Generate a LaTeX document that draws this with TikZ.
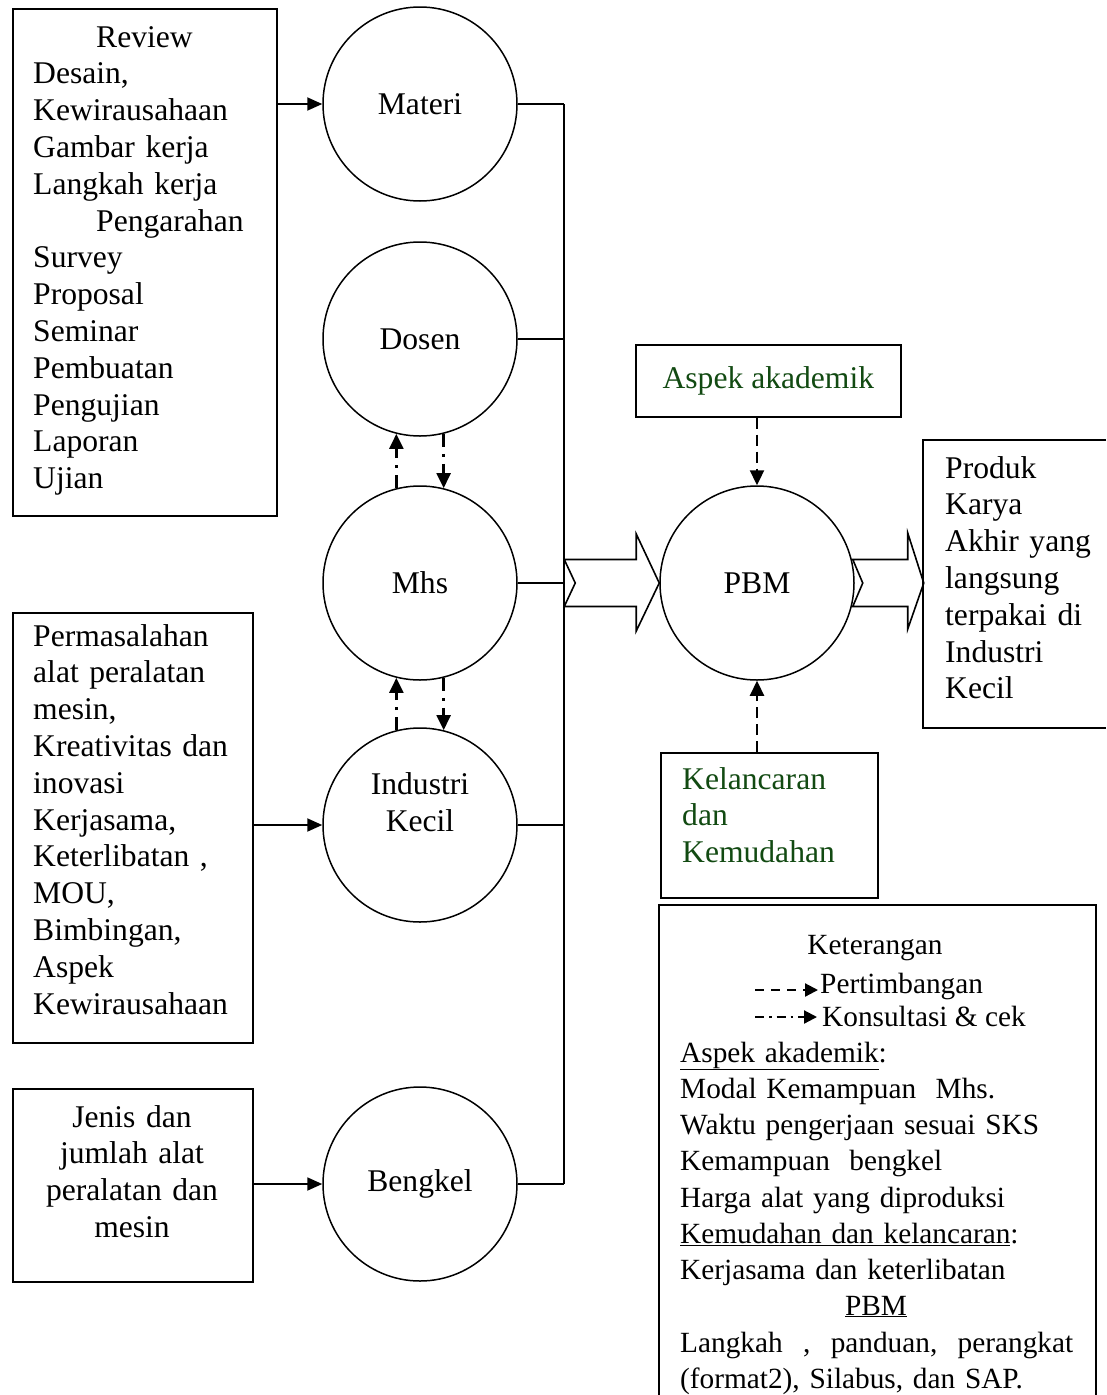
\documentclass[tikz,border=0pt]{standalone}
\usepackage{fontspec}
\setmainfont{Liberation Serif}
\usetikzlibrary{arrows.meta,calc}
\definecolor{dgreen}{HTML}{124A12}
\begin{document}
\begin{tikzpicture}[x=1pt,y=-1pt,
  circ/.style={draw, circle, line width=1.5pt, minimum size=194pt, inner sep=0pt, font=\fontsize{31.6}{36.8}\selectfont, align=center},
  box/.style={draw, line width=1.7pt, inner sep=0pt, anchor=north west},
  txt/.style={font=\fontsize{31.6}{36.8}\selectfont, inner sep=0pt},
  txtb/.style={font=\fontsize{29.3}{36.3}\selectfont, inner sep=0pt},
  conn/.style={line width=1.9pt},
  arr/.style={conn, -{Triangle[length=15pt,width=13pt]}},
  dsh/.style={line width=2.3pt, dash pattern=on 11pt off 6pt, -{Triangle[length=15pt,width=14pt]}},
  dd/.style={line width=2.3pt, dash pattern=on 13pt off 7pt on 3pt off 7pt, -{Triangle[length=15pt,width=14pt]}},
  legdash/.style={line width=2.2pt, dash pattern=on 9pt off 7pt, -{Triangle[length=13pt,width=13pt]}},
  legdd/.style={line width=2.2pt, dash pattern=on 9pt off 5pt on 2.5pt off 5pt, -{Triangle[length=13pt,width=13pt]}},
  blk/.style={line width=1.6pt, fill=white, line join=miter}
]
\useasboundingbox (0,0) rectangle (1106,1395);

% circles
\node[circ] (mat) at (420,104) {Materi};
\node[circ] (dos) at (420,339) {Dosen};
\node[circ] (mhs) at (420,583) {Mhs};
\node[circ] (ind) at (420,825) {};
\node[txt, align=center] (indt) at (420,802) {Industri\\Kecil};
\node[circ] (ben) at (420,1184) {Bengkel};
\node[circ] (pbm) at (757,583) {PBM};

% left boxes
\node[box, minimum width=264pt, minimum height=507pt] (b1) at (12,8) {};
\node[txt, anchor=base west, text width=240pt, align=left] (b1t) at (33,47)
 {\hspace*{63pt}Review\\Desain,\\Kewirausahaan\\Gambar kerja\\Langkah kerja\\\hspace*{63pt}Pengarahan\\Survey\\Proposal\\Seminar\\Pembuatan\\Pengujian\\Laporan\\Ujian};

\node[box, minimum width=240pt, minimum height=430pt] (b2) at (12,612) {};
\node[txt, anchor=base west, text width=215pt, align=left] (b2t) at (33,646)
 {Permasalahan\\alat peralatan\\mesin,\\Kreativitas dan\\inovasi\\Kerjasama,\\Keterlibatan ,\\MOU,\\Bimbingan,\\Aspek\\Kewirausahaan};

\node[box, minimum width=240pt, minimum height=193pt] (b3) at (12,1088) {};
\node[txt, anchor=base, text width=220pt, align=center] (b3t) at (132,1127)
 {Jenis dan\\jumlah alat\\peralatan dan\\mesin};

% input arrows
\draw[arr] (b1.east |- mat) -- (mat.west);
\draw[arr] (b2.east |- ind) -- (ind.west);
\draw[arr] (b3.east |- ben) -- (ben.west);

% bus
\coordinate (busT) at (564,104);
\coordinate (busB) at (564,1184);
\draw[conn] (busT) -- (busB);
\foreach \n in {mat,dos,mhs,ind,ben} \draw[conn] (\n.east) -- (\n.east -| busT);

% consult arrows
\draw[dd] (mhs.104) -- (dos.-104);
\draw[dd] (dos.-76) -- (mhs.76);
\draw[dd] (ind.104) -- (mhs.-104);
\draw[dd] (mhs.-76) -- (ind.76);

% block arrows
\draw[blk] ($(pbm.west)+(-95,-23.5)$) -- ($(pbm.west)+(-23,-23.5)$) -- ($(pbm.west)+(-23,-49)$) -- (pbm.west)
  -- ($(pbm.west)+(-23,48)$) -- ($(pbm.west)+(-23,23.5)$) -- ($(pbm.west)+(-95,23.5)$) -- ($(pbm.west)+(-84,0)$) -- cycle;
\draw[blk] ($(pbm.east)+(-2,-23.5)$) -- ($(pbm.east)+(53,-23.5)$) -- ($(pbm.east)+(53,-50)$) -- ($(pbm.east)+(69,0)$)
  -- ($(pbm.east)+(53,46)$) -- ($(pbm.east)+(53,23.5)$) -- ($(pbm.east)+(-2,23.5)$) -- ($(pbm.east)+(8,0)$) -- cycle;

% product box
\draw[line width=1.7pt] (1106,440) -- (923,440) -- (923,728) -- (1106,728);
\node[txt, anchor=base west, text width=160pt, align=left] (prod) at (945,478)
 {Produk\\Karya\\Akhir yang\\langsung\\terpakai di\\Industri\\Kecil};

% aspek akademik
\node[box, minimum width=265pt, minimum height=72pt, text=dgreen, txt] (asp) at (635,344) {Aspek akademik};
\draw[dsh] (pbm.north |- asp.south) -- (pbm.north);

% kelancaran
\node[box, minimum width=217pt, minimum height=145pt] (kel) at (660,752) {};
\node[txt, anchor=base west, text width=190pt, align=left, text=dgreen] (kelt) at (682,789)
 {Kelancaran\\dan\\Kemudahan};
\draw[dsh] (pbm.south |- kel.north) -- (pbm.south);

% legend
\draw[line width=1.7pt] (659,1395) -- (659,905) -- (1096,905) -- (1096,1395);
\node[txtb, anchor=base] (ket) at (875,954) {Keterangan};
\coordinate (l1a) at (755,990);
\coordinate (l1b) at (818,990);
\draw[legdash] (l1a) -- (l1b);
\node[txtb, anchor=base west] (l1t) at (820,993) {Pertimbangan};
\coordinate (l2a) at (755,1017);
\coordinate (l2b) at (817,1017);
\draw[legdd] (l2a) -- (l2b);
\node[txtb, anchor=base west] (l2t) at (822,1026) {Konsultasi \& cek};
\node[txtb, anchor=base west, text width=393pt, align=left] (legbody) at (680,1062)
 {\underline{Aspek akademik}:\\Modal Kemampuan\ \ Mhs.\\Waktu pengerjaan sesuai SKS\\Kemampuan\ \ bengkel\\Harga alat yang diproduksi\\\underline{Kemudahan dan kelancaran}:\\Kerjasama dan keterlibatan};
\node[txtb, anchor=base] (legpbm) at (876,1315) {\underline{PBM}};
\node[txtb, anchor=base west, text width=393pt, align=left] (legbody2) at (680,1352)
 {\makebox[393pt][l]{Langkah\hfill,\hfill panduan,\hfill perangkat}\\(format2), Silabus, dan SAP.};
\end{tikzpicture}
\end{document}
